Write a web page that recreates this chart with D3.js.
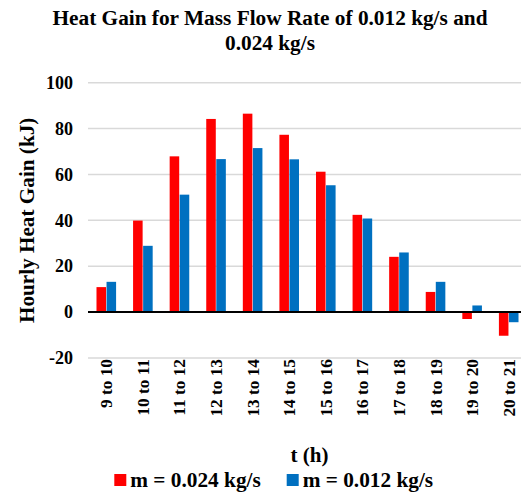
<!DOCTYPE html>
<html>
<head>
<meta charset="utf-8">
<script src="https://cdn.jsdelivr.net/npm/d3@7"></script>
<style>
  html, body { margin: 0; padding: 0; background: #fff; overflow: hidden; }
  text { font-family: "Liberation Serif", "Times New Roman", serif; font-weight: bold; fill: #000; }
</style>
</head>
<body>
<svg id="chart" width="521" height="495"></svg>
<script>
const categories = ["9 to 10", "10 to 11", "11 to 12", "12 to 13", "13 to 14", "14 to 15",
                    "15 to 16", "16 to 17", "17 to 18", "18 to 19", "19 to 20", "20 to 21"];
const seriesNames = ["m = 0.024 kg/s", "m = 0.012 kg/s"];
const m024 = [10.9, 39.9, 67.9, 84.2, 86.5, 77.3, 61.2, 42.4, 24.1, 8.8, -3.0, -10.3];
const m012 = [13.2, 28.9, 51.2, 66.7, 71.5, 66.6, 55.3, 40.8, 26.0, 13.2, 2.9, -4.4];
const yTicks = [-20, 0, 20, 40, 60, 80, 100];
const colors = ["#FF0000", "#0070C0"];

const svg = d3.select("#chart");
const plotL = 88, plotR = 527, plotT = 82.7, plotB = 358;

const x = d3.scaleBand().domain(categories).range([plotL, plotR]).paddingInner(0).paddingOuter(0);
const y = d3.scaleLinear().domain([-20, 100]).range([plotB, plotT]);
const groupW = 19.6;
const x1 = d3.scaleBand().domain(seriesNames).range([0, groupW]).paddingInner(0.05);

// gridlines
svg.append("g").selectAll("line").data(yTicks).join("line")
  .attr("x1", plotL).attr("x2", plotR)
  .attr("y1", d => y(d)).attr("y2", d => y(d))
  .attr("stroke", "#D9D9D9").attr("stroke-width", 1.5);

// y axis labels
const yAxis = d3.axisLeft(y).tickValues(yTicks).tickSize(0).tickPadding(0).tickFormat(d => String(d));
const gy = svg.append("g").attr("transform", `translate(${plotL - 15},0)`).call(yAxis);
gy.select(".domain").remove();
gy.selectAll("text").attr("font-size", 18).attr("font-family", "Liberation Serif").attr("font-weight", "bold").attr("fill", "#000");

// bars
const series = [m024, m012];
series.forEach((vals, si) => {
  svg.append("g").selectAll("rect").data(vals).join("rect")
    .attr("x", (d, i) => x(categories[i]) + x.bandwidth() / 2 - groupW / 2 + x1(seriesNames[si]))
    .attr("width", x1.bandwidth())
    .attr("y", d => y(Math.max(0, d)))
    .attr("height", d => Math.abs(y(d) - y(0)))
    .attr("fill", colors[si]);
});

// zero line
svg.append("line").attr("x1", plotL).attr("x2", plotR)
  .attr("y1", y(0)).attr("y2", y(0)).attr("stroke", "#000").attr("stroke-width", 2);

// x axis labels (rotated)
const xAxis = d3.axisBottom(x).tickSize(0).tickPadding(0);
const gx = svg.append("g").attr("transform", `translate(0,${plotB})`).call(xAxis);
gx.select(".domain").remove();
gx.selectAll("text")
  .attr("font-size", 17.3).attr("font-family", "Liberation Serif").attr("font-weight", "bold").attr("fill", "#000")
  .attr("text-anchor", "end").attr("dy", null).attr("y", 0)
  .attr("transform", "translate(6,1) rotate(-90)");

// title
const title = svg.append("text").attr("text-anchor", "middle").attr("font-size", 21.3);
title.append("tspan").attr("x", 270).attr("y", 25).text("Heat Gain for Mass Flow Rate of 0.012 kg/s and");
title.append("tspan").attr("x", 270).attr("y", 50).text("0.024 kg/s");

// y axis title
svg.append("text").attr("text-anchor", "middle").attr("font-size", 21.2)
  .attr("transform", `translate(34,${(plotT + plotB) / 2}) rotate(-90)`)
  .text("Hourly Heat Gain (kJ)");

// x axis title
svg.append("text").attr("text-anchor", "middle").attr("font-size", 21)
  .attr("x", 309.5).attr("y", 461.5).text("t (h)");

// legend
const legX = [114.3, 286.7];
seriesNames.forEach((name, i) => {
  svg.append("rect").attr("x", legX[i]).attr("y", 474).attr("width", 12).attr("height", 12).attr("fill", colors[i]);
  svg.append("text").attr("x", legX[i] + 16).attr("y", 486.5).attr("font-size", 21.3).text(name);
});
</script>
</body>
</html>
